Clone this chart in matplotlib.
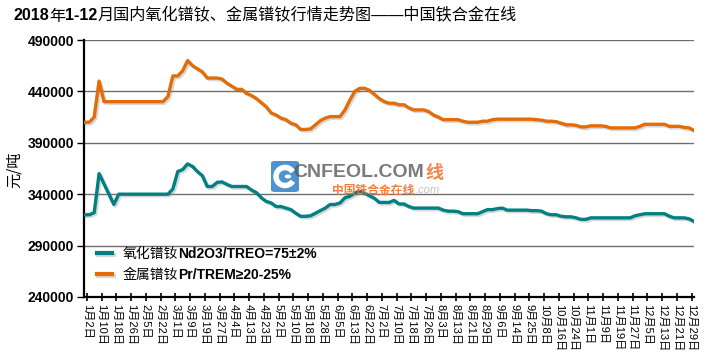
import matplotlib
matplotlib.use("Agg")
import matplotlib.pyplot as plt
import matplotlib.patheffects as pe
from matplotlib.patches import FancyBboxPatch, Arc, Circle
import numpy as np

plt.rcParams['font.family'] = ['Liberation Sans', 'Noto Sans CJK SC']

# ---------------- data ----------------
title_parts = [("2018", "bold"), ("年", "normal"), ("1-12", "bold"),
               ("月国内氧化镨钕、金属镨钕行情走势图——中国铁合金在线", "normal")]

date_labels = ["1月2日", "1月10日", "1月18日", "1月26日", "2月5日", "2月22日",
               "3月1日", "3月9日", "3月19日", "3月27日", "4月4日", "4月13日",
               "4月23日", "5月2日", "5月10日", "5月18日", "5月28日", "6月5日",
               "6月13日", "6月22日", "7月2日", "7月10日", "7月18日", "7月26日",
               "8月3日", "8月13日", "8月21日", "8月29日", "9月6日", "9月14日",
               "9月25日", "10月8日", "10月16日", "10月24日", "11月1日", "11月9日",
               "11月19日", "11月27日", "12月5日", "12月13日", "12月21日", "12月29日"]

y_ticks = [240000, 290000, 340000, 390000, 440000, 490000]

series_names = ["氧化镨钕", "金属镨钕"]
series_specs = ["Nd2O3/TREO=75±2%", "Pr/TREM≥20-25%"]
y_label = "元/吨"

# Nd2O3 oxide price (yuan/t), sampled every 2 trading days
nd2o3 = [320000, 320000, 322000, 360000, 350000, 340000, 330000, 340000,
         340000, 340000, 340000, 340000, 340000, 340000, 340000, 340000, 340000, 340000,
         345000, 362000, 364000, 369500, 367000, 362000, 358000, 347500, 347500, 351500,
         352000, 349500, 347500, 347500, 347500, 347500, 344000, 341500, 336500, 333000,
         331500, 328000, 328000, 326500, 325000, 321500, 318500, 318500, 319000, 321500,
         324000, 326500, 330000, 330000, 331500, 336500, 338000, 341000, 343000, 341000,
         338500, 336000, 332000, 332000, 332000, 334000, 330500, 330500, 328000, 326500,
         326500, 326500, 326500, 326500, 326500, 324500, 323500, 323500, 323000, 321000,
         321000, 321000, 321000, 323000, 325000, 325000, 326000, 326500, 324500, 324500,
         324500, 324500, 324500, 324000, 324000, 323500, 321000, 320000, 320000, 318500,
         318000, 318000, 317000, 315500, 315500, 317000,
         317000, 317000, 317000, 317000, 317000, 317000, 317000, 317000,
         319000, 320000,
         321000, 321000, 321000, 321000, 321000,
         318500, 317000, 317000, 317000, 316000, 313500]

# Pr metal price (yuan/t), sampled every 2 trading days
pr_metal = [410000, 410000, 415000, 450000, 430000,
            430000, 430000, 430000, 430000, 430000, 430000, 430000, 430000, 430000,
            430000, 430000, 430000,
            435000, 455000, 455000, 460000, 470000, 465000, 462000, 459000, 453000,
            453000, 453000, 452000, 448000, 445000, 442000, 442000, 438000, 436000,
            433000, 429000, 425000, 419000, 417000, 414000, 412500, 409000, 407500,
            403000, 403000, 403500, 407500, 411500, 414000, 415500, 415500, 415500,
            422000, 431500, 440000, 443000, 443000, 441000, 437000, 433000, 430000,
            428500, 428500, 427000, 427000, 424000, 422000, 422000, 422000, 420500,
            417000, 415000, 412500, 412500, 412500, 412500, 411000, 410000, 410000,
            410000, 411000, 411000, 412500,
            413000, 413000, 413000, 413000, 413000, 413000, 413000, 413000,
            412500, 412000, 411000, 411000, 410500, 409000, 407500, 407500, 407000,
            405500, 405500, 406500, 406500, 406500, 406000, 404500,
            404500, 404500, 404500, 404500, 404500,
            406000,
            408000, 408000, 408000, 408000, 408000,
            406000, 406000, 406000, 405000, 404500, 402000]

teal = '#008080'
orange = '#E36C09'

# ---------------- figure ----------------
W, H = 711, 356
fig = plt.figure(figsize=(W / 100, H / 100), dpi=100)
fig.patch.set_facecolor('white')
ax = fig.add_axes([84 / W, 1 - 297 / H, 610 / W, 257 / H])

x = np.arange(len(nd2o3))
tick_pos = 0.5 + 3 * np.arange(len(date_labels))

ax.set_yticks(y_ticks)
ax.set_ylim(y_ticks[0], y_ticks[-1])
ax.set_xlim(-0.07, len(nd2o3) - 1)
ax.yaxis.grid(True, color='#6e6e6e', lw=1.0, zorder=0)
ax.set_axisbelow(True)

shadow = [pe.SimpleLineShadow(offset=(1.2, -1.2), shadow_color='gray', alpha=0.3), pe.Normal()]
ax.plot(x, nd2o3, color=teal, lw=2.4, label=series_names[0],
        solid_joinstyle='round', path_effects=shadow, zorder=4)
ax.plot(x, pr_metal, color=orange, lw=2.4, label=series_names[1],
        solid_joinstyle='round', path_effects=shadow, zorder=4)

ax.set_xticks(tick_pos)
ax.set_xticklabels(date_labels, rotation=-90, fontsize=8, va='top', ha='center')
for lab in ax.get_yticklabels():
    lab.set_fontweight('bold')
ax.tick_params(axis='y', direction='out', length=5, width=1, labelsize=10, pad=2)
ax.tick_params(axis='x', direction='inout', length=6, width=1.2, pad=2)

for s in ['top', 'right']:
    ax.spines[s].set_visible(False)
for s in ['left', 'bottom']:
    ax.spines[s].set_linewidth(1.6)
    ax.spines[s].set_color('black')

ax.set_ylabel(y_label, fontsize=11, family=['Noto Sans CJK SC'])
ax.yaxis.set_label_coords(-0.100, 0.494)

# legend: Chinese part as legend label, bold spec chained after
leg = ax.legend(loc='upper left', bbox_to_anchor=(0.021, 0.195), frameon=False,
                fontsize=10, handlelength=1.1, handletextpad=0.75,
                labelspacing=0.5, borderaxespad=0, borderpad=0)
for line in leg.get_lines():
    line.set_linewidth(3)
for t, spec in zip(leg.get_texts(), series_specs):
    ax.annotate(spec, xy=(1, 0), xycoords=t, va='bottom', ha='left',
                fontsize=10, fontweight='bold', annotation_clip=False, zorder=10)

# title built from mixed-weight pieces
prev = fig.text(13 / W, 1 - 23.5 / H, title_parts[0][0], fontsize=11.6,
                fontweight=title_parts[0][1], va='bottom', ha='left')
for txt, w in title_parts[1:]:
    prev = ax.annotate(txt, xy=(1, 0), xycoords=prev, va='bottom', ha='left',
                       fontsize=11.6, fontweight=w, annotation_clip=False, zorder=10)

# watermark (site logo)
box = FancyBboxPatch((271 / W, 1 - 192 / H), 28 / W, 31 / H,
                     boxstyle='round,pad=0.0,rounding_size=0.006',
                     transform=fig.transFigure, facecolor='#3b87c9',
                     edgecolor='none', alpha=0.9, zorder=5)
fig.patches.append(box)
ring = Arc((285 / W, 1 - 176.5 / H), 18 / W, 18 / H, theta1=50, theta2=310,
           transform=fig.transFigure, color='white', lw=4, zorder=6)
fig.patches.append(ring)
dot = Circle((288 / W, 1 - 176.5 / H), 2.5 / W, transform=fig.transFigure,
             color='white', zorder=6)
fig.patches.append(dot)
fig.text(293 / W, 1 - 172 / H, "CNFEOL.COM", color='#5a5a5a', fontsize=14,
         fontweight='bold', ha='left', va='center', alpha=0.8, zorder=6)
fig.text(425 / W, 1 - 172 / H, "线", color='#f26f2e', fontsize=13,
         fontweight='bold', ha='left', va='center', alpha=0.85, zorder=6,
         family=['Noto Sans CJK SC'])
fig.text(332 / W, 1 - 190 / H, "中国铁合金在线", color='#f26f2e', fontsize=8.5,
         fontweight='bold', ha='left', va='center', alpha=0.9, zorder=6,
         family=['Noto Sans CJK SC'])
fig.text(416 / W, 1 - 190 / H, ".com", color='#9a9a9a', fontsize=8,
         style='italic', ha='left', va='center', alpha=0.6, zorder=6)

fig.savefig('out.png', dpi=100, facecolor='white')
